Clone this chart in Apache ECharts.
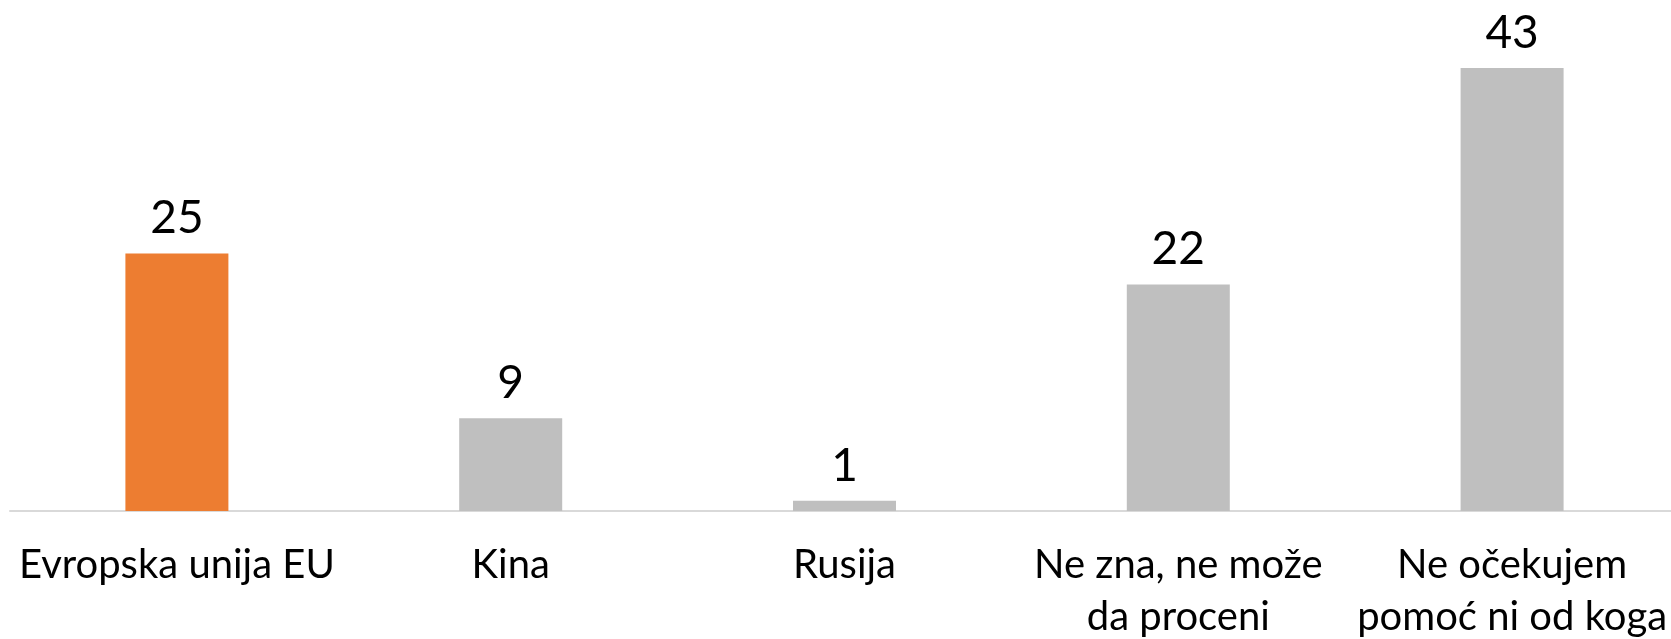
<!DOCTYPE html>
<html>
<head>
<meta charset="utf-8">
<script src="https://cdn.jsdelivr.net/npm/echarts@6/dist/echarts.min.js"></script>
<style>
html,body{margin:0;padding:0;background:#fff;}
#chart{width:1671px;height:639px;}
</style>
</head>
<body>
<div id="chart"></div>
<script>
var categories = ['Evropska unija EU', 'Kina', 'Rusija', 'Ne zna, ne može\nda proceni', 'Ne očekujem\npomoć ni od koga'];
var values = [25, 9, 1, 22, 43];
var highlightIndex = 0;

var chart = echarts.init(document.getElementById('chart'));
var data = values.map(function (v, i) {
  return {
    value: v,
    itemStyle: { color: i === highlightIndex ? '#ED7D31' : '#BFBFBF' }
  };
});
chart.setOption({
  animation: false,
  grid: { left: 10, width: 1669, top: -4, bottom: 128, containLabel: false, outerBoundsMode: 'none' },
  xAxis: {
    type: 'category',
    data: categories,
    axisLine: { show: true, lineStyle: { color: '#D9D9D9', width: 2 } },
    axisTick: { show: false },
    axisLabel: {
      interval: 0,
      color: '#000',
      fontFamily: 'Lato',
      fontSize: 40,
      lineHeight: 52,
      margin: 28
    }
  },
  yAxis: {
    type: 'value',
    min: 0,
    max: 50,
    show: false,
    splitLine: { show: false }
  },
  series: [{
    type: 'bar',
    data: data,
    barWidth: 103,
    label: {
      show: true,
      position: 'top',
      distance: 12,
      color: '#000',
      fontFamily: 'Lato',
      fontSize: 46
    }
  }]
});
</script>
</body>
</html>
